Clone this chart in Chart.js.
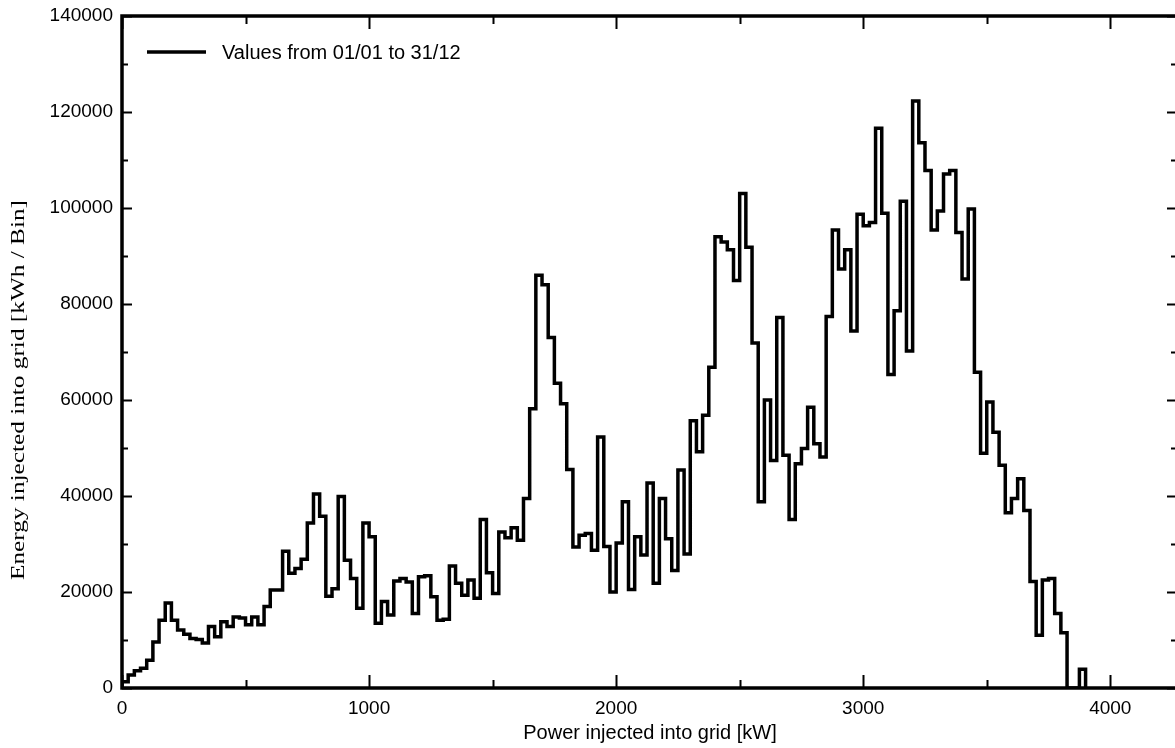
<!DOCTYPE html>
<html>
<head>
<meta charset="utf-8">
<script src="https://cdn.jsdelivr.net/npm/chart.js@4.4.0/dist/chart.umd.min.js"></script>
<style>
  html, body { margin: 0; padding: 0; background: #fff; overflow: hidden; }
  #histChart { display: block; }
</style>
</head>
<body>
<canvas id="histChart" width="1180" height="748"></canvas>
<script>
// bin width of the histogram, kW
const BIN_KW = 25;

// energy per bin [kWh], bins start at 0 kW
const energyPerBin = [
  1300, 2700, 3600, 4100, 5800, 9600, 14100, 17700, 14100, 12100,
  11200, 10300, 10100, 9400, 12800, 10700, 13800, 12800, 14800, 14600,
  13200, 14800, 13200, 17000, 20400, 20400, 28500, 23900, 24900, 26800,
  34400, 40400, 35800, 19100, 20700, 39900, 26600, 22800, 16600, 34400,
  31500, 13500, 18000, 15200, 22300, 22800, 22100, 15500, 23200, 23400,
  19000, 14100, 14300, 25400, 21800, 19300, 22500, 18700, 35100, 24000,
  19700, 32500, 31300, 33400, 30800, 39500, 58200, 86000, 84000, 73000,
  63500, 59200, 45500, 29400, 31800, 32200, 28700, 52300, 29500, 20000,
  30200, 38800, 20500, 31500, 27700, 42700, 21800, 39500, 31100, 24500,
  45400, 27900, 55700, 49200, 56800, 66800, 94000, 92900, 91300, 84900,
  103000, 91800, 71900, 38800, 60000, 47400, 77200, 48500, 35100, 46700,
  49900, 58500, 50900, 48100, 77400, 95400, 87300, 91300, 74400, 98700,
  96300, 97000, 116600, 98900, 65300, 78600, 101400, 70200, 122300, 113600,
  107800, 95400, 99400, 107100, 107800, 94900, 85200, 99800, 65800, 48900,
  59600, 53300, 46400, 36500, 39500, 43600, 37000, 22200, 11000, 22500,
  22800, 15500, 11500, 0, 0, 3900
];

const xTicks = [0, 1000, 2000, 3000, 4000];
const yTicks = [0, 20000, 40000, 60000, 80000, 100000, 120000, 140000];
const xMinorStep = 500;
const yMinorStep = 10000;

const legendText = "Values from 01/01 to 31/12";
const xTitle = "Power injected into grid [kW]";
const yTitle = "Energy injected into grid [kWh / Bin]";

const sansFont = '"Liberation Sans", Arial, sans-serif';
const serifFont = '"Liberation Serif", "Times New Roman", serif';

// step points: start on the axis, one point per bin start, drop back to 0 at the end
const points = [{ x: 0, y: 0 }];
energyPerBin.forEach((v, i) => points.push({ x: i * BIN_KW, y: v }));
points.push({ x: energyPerBin.length * BIN_KW, y: 0 });

// frame, inward ticks, titles and legend
const framePlugin = {
  id: 'frame',
  afterDraw(chart) {
    const ctx = chart.ctx;
    const a = chart.chartArea;
    const xs = chart.scales.x, ys = chart.scales.y;
    ctx.save();
    ctx.strokeStyle = '#000';

    // ticks
    ctx.lineWidth = 2;
    ctx.beginPath();
    for (let v = 0; v <= ys.max; v += yMinorStep) {
      const y = Math.round(ys.getPixelForValue(v)) + 0.5;
      const len = v % 20000 === 0 ? 10 : 6;
      ctx.moveTo(a.left, y); ctx.lineTo(a.left + len, y);
      ctx.moveTo(a.right, y); ctx.lineTo(a.right - len, y);
    }
    for (let v = 0; v <= xs.max; v += xMinorStep) {
      const x = Math.round(xs.getPixelForValue(v)) + 0.5;
      const len = v % 1000 === 0 ? 13 : 8;
      ctx.moveTo(x, a.bottom); ctx.lineTo(x, a.bottom - len);
      ctx.moveTo(x, a.top); ctx.lineTo(x, a.top + len);
    }
    ctx.stroke();

    // frame
    ctx.lineWidth = 3.5;
    ctx.strokeRect(a.left, a.top, a.right - a.left, a.bottom - a.top);

    // legend
    ctx.beginPath();
    ctx.moveTo(147, 52); ctx.lineTo(206, 52);
    ctx.stroke();
    ctx.fillStyle = '#000';
    ctx.font = '20px ' + sansFont;
    ctx.textBaseline = 'middle';
    ctx.textAlign = 'left';
    ctx.fillText(legendText, 222, 53);

    // x title
    ctx.textAlign = 'center';
    ctx.fillText(xTitle, 650, 733);

    // y title, stretched along its length like in the original
    ctx.translate(19, 390);
    ctx.rotate(-Math.PI / 2);
    ctx.font = '18px ' + serifFont;
    const w = ctx.measureText(yTitle).width;
    ctx.scale(380 / w, 1);
    ctx.fillText(yTitle, 0, 0);
    ctx.restore();
  }
};

new Chart(document.getElementById('histChart'), {
  type: 'line',
  data: {
    datasets: [{
      label: legendText,
      data: points,
      stepped: 'before',
      borderColor: '#000',
      borderWidth: 3.5,
      pointRadius: 0,
      fill: false
    }]
  },
  options: {
    responsive: false,
    animation: false,
    devicePixelRatio: 1,
    layout: { padding: { top: 16, right: 3, left: 0, bottom: 0 } },
    plugins: { legend: { display: false }, tooltip: { enabled: false } },
    scales: {
      x: {
        type: 'linear',
        min: 0,
        max: 4270,
        afterFit: s => { s.height = 60; s.paddingLeft = 0; s.paddingRight = 0; },
        afterBuildTicks: s => { s.ticks = xTicks.map(v => ({ value: v })); },
        grid: { display: false, drawTicks: false },
        border: { display: false },
        ticks: { color: '#000', padding: 9, maxRotation: 0, callback: v => String(v), font: { family: sansFont, size: 19 } }
      },
      y: {
        min: 0,
        max: 140000,
        afterFit: s => { s.width = 122; s.paddingTop = 0; s.paddingBottom = 0; },
        afterBuildTicks: s => { s.ticks = yTicks.map(v => ({ value: v })); },
        grid: { display: false, drawTicks: false },
        border: { display: false },
        ticks: { color: '#000', padding: 9, callback: v => String(v), font: { family: sansFont, size: 19 } }
      }
    }
  },
  plugins: [framePlugin]
});
</script>
</body>
</html>
